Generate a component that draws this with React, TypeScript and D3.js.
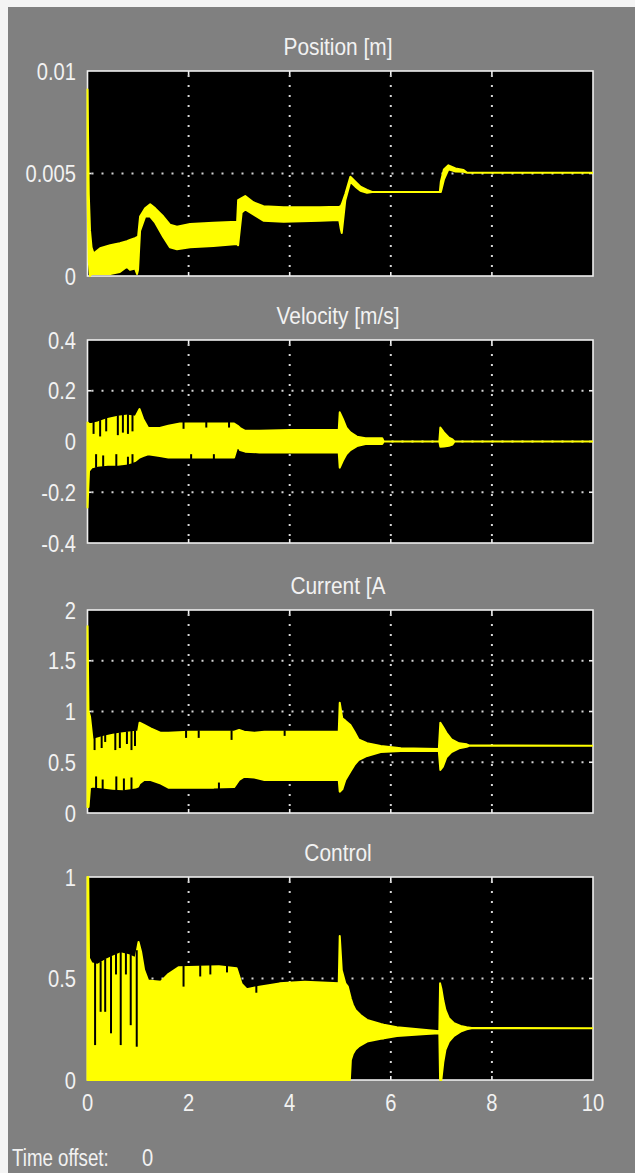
import React from "react";
import * as d3 from "d3";

const WIDTH = 635;
const HEIGHT = 1173;

// Shared time axis (seconds)
const timeTicks = [0, 2, 4, 6, 8, 10];
const timeTickLabels = ["0", "2", "4", "6", "8", "10"];
const timeGrid = [2, 4, 6, 8];

// Position [m] — envelope of the scope trace
const posTicks = [0, 0.005, 0.01];
const posTickLabels = ["0", "0.005", "0.01"];
const posTime = [0, 0.025, 0.05, 0.08, 0.12, 0.25, 0.45, 0.64, 0.78, 0.84, 0.94, 0.98, 1.0, 1.04, 1.14, 1.24, 1.34, 1.5, 1.63, 1.77, 2.03, 2.49, 2.96, 2.98, 3.05, 3.12, 3.28, 3.48, 3.88, 4.6, 4.98, 5.01, 5.03, 5.1, 5.2, 5.3, 5.4, 5.53, 5.63, 6.97, 6.99, 7.05, 7.14, 7.28, 7.44, 7.51, 10];
const posHigh = [0.0091, 0.004, 0.0022, 0.0014, 0.0011, 0.00135, 0.0015, 0.0016, 0.0017, 0.00176, 0.00185, 0.0019, 0.0019, 0.0029, 0.0033, 0.0035, 0.0033, 0.0029, 0.0025, 0.0024, 0.00254, 0.0026, 0.00265, 0.0037, 0.0038, 0.0039, 0.0036, 0.0034, 0.00335, 0.00335, 0.00338, 0.0034, 0.0035, 0.004, 0.00484, 0.0046, 0.00436, 0.0042, 0.0041, 0.0041, 0.0046, 0.0052, 0.0054, 0.00525, 0.00517, 0.00504, 0.00504];
const posLow = [0.004, 0.0007, 0.0, 0.0001, 0.0001, 0.0001, 0.0001, 0.0002, 0.00045, 0.0003, 0.00037, 0.0001, 0.0003, 0.0022, 0.0029, 0.0029, 0.0026, 0.0019, 0.0014, 0.0013, 0.0014, 0.00146, 0.00156, 0.0015, 0.0031, 0.00325, 0.003, 0.0027, 0.00265, 0.0027, 0.00273, 0.0023, 0.0021, 0.0037, 0.0046, 0.00436, 0.00416, 0.00406, 0.0041, 0.0041, 0.0041, 0.0047, 0.0052, 0.0051, 0.00508, 0.00504, 0.00504];
const posDipHighTime: number[] = [];
const posDipHighValue: number[] = [];
const posDipLowTime: number[] = [];
const posDipLowValue: number[] = [];

// Velocity [m/s]
const velTicks = [-0.4, -0.2, 0, 0.2, 0.4];
const velTickLabels = ["-0.4", "-0.2", "0", "0.2", "0.4"];
const velTime = [0, 0.03, 0.08, 0.2, 0.4, 0.6, 0.8, 0.95, 1.03, 1.1, 1.2, 1.43, 1.6, 1.83, 2.4, 2.9, 2.97, 3.02, 3.12, 3.4, 4.0, 4.97, 4.99, 5.05, 5.12, 5.2, 5.33, 5.5, 5.83, 5.86, 6.96, 6.98, 7.05, 7.15, 7.22, 7.26, 10];
const velHigh = [0.075, 0.07, 0.069, 0.075, 0.089, 0.098, 0.102, 0.098, 0.128, 0.089, 0.053, 0.053, 0.062, 0.071, 0.071, 0.071, 0.062, 0.053, 0.042, 0.042, 0.045, 0.045, 0.115, 0.089, 0.055, 0.036, 0.019, 0.013, 0.013, 0, 0, 0.055, 0.036, 0.015, 0.008, 0, 0];
const velLow = [-0.26, -0.116, -0.103, -0.096, -0.092, -0.092, -0.087, -0.076, -0.063, -0.057, -0.05, -0.057, -0.063, -0.063, -0.063, -0.063, -0.017, -0.034, -0.04, -0.043, -0.043, -0.043, -0.103, -0.076, -0.05, -0.034, -0.018, -0.01, -0.01, 0, 0, -0.021, -0.02, -0.017, -0.012, 0, 0];
const velDipHighTime = [0.12, 0.25, 0.37, 0.6, 0.7, 0.8, 0.89, 1.9, 2.35, 2.8];
const velDipHighValue = [0.03, 0.02, 0.04, 0.025, 0.035, 0.03, 0.04, 0.05, 0.055, 0.055];
const velDipLowTime = [0.17, 0.31, 0.57, 0.8, 0.89, 2.05, 2.5];
const velDipLowValue = [-0.05, -0.055, -0.05, -0.06, -0.05, -0.05, -0.05];

// Current [A]
const curTicks = [0, 0.5, 1, 1.5, 2];
const curTickLabels = ["0", "0.5", "1", "1.5", "2"];
const curTime = [0, 0.02, 0.05, 0.1, 0.3, 0.5, 0.7, 0.95, 1.0, 1.03, 1.12, 1.25, 1.45, 1.6, 2.0, 2.5, 2.9, 3.0, 3.1, 3.3, 3.5, 4.0, 4.97, 4.99, 5.04, 5.1, 5.2, 5.28, 5.36, 5.53, 5.8, 6.2, 6.95, 6.98, 7.03, 7.1, 7.2, 7.35, 7.5, 7.55, 10];
const curHigh = [1.84, 1.0, 0.95, 0.72, 0.75, 0.77, 0.785, 0.8, 0.8, 0.89, 0.867, 0.834, 0.79, 0.79, 0.8, 0.8, 0.8, 0.818, 0.8, 0.79, 0.8, 0.8, 0.8, 1.087, 0.933, 0.91, 0.867, 0.8, 0.726, 0.687, 0.66, 0.637, 0.63, 0.89, 0.85, 0.79, 0.726, 0.687, 0.677, 0.665, 0.663];
const curLow = [0.06, 0.06, 0.25, 0.26, 0.25, 0.24, 0.233, 0.25, 0.26, 0.29, 0.325, 0.325, 0.29, 0.25, 0.25, 0.25, 0.255, 0.325, 0.358, 0.35, 0.325, 0.325, 0.325, 0.21, 0.233, 0.325, 0.41, 0.473, 0.522, 0.562, 0.6, 0.61, 0.61, 0.424, 0.456, 0.55, 0.6, 0.637, 0.653, 0.663, 0.663];
const curDipHighTime = [0.14, 0.28, 0.35, 0.55, 0.64, 0.78, 0.87, 0.94, 1.95, 2.2, 2.85, 3.9];
const curDipHighValue = [0.62, 0.64, 0.7, 0.62, 0.64, 0.68, 0.62, 0.66, 0.74, 0.74, 0.72, 0.76];
const curDipLowTime = [0.17, 0.3, 0.57, 0.72, 0.87, 2.6];
const curDipLowValue = [0.36, 0.33, 0.36, 0.34, 0.35, 0.3];

// Control
const ctrlTicks = [0, 0.5, 1];
const ctrlTickLabels = ["0", "0.5", "1"];
const ctrlTime = [0, 0.015, 0.03, 0.08, 0.2, 0.35, 0.5, 0.65, 0.8, 0.95, 1.01, 1.06, 1.12, 1.2, 1.45, 1.6, 1.8, 2.2, 2.6, 2.95, 3.05, 3.15, 3.4, 3.8, 4.3, 4.97, 4.99, 5.03, 5.1, 5.15, 5.19, 5.21, 5.25, 5.3, 5.36, 5.4, 5.53, 5.8, 5.86, 6.12, 6.7, 6.96, 6.975, 7.0, 7.04, 7.08, 7.15, 7.25, 7.38, 7.5, 7.6, 10];
const ctrlHigh = [1.0, 1.0, 0.6, 0.575, 0.567, 0.59, 0.607, 0.624, 0.616, 0.6, 0.68, 0.632, 0.542, 0.49, 0.484, 0.522, 0.555, 0.558, 0.56, 0.55, 0.473, 0.447, 0.46, 0.476, 0.484, 0.476, 0.709, 0.54, 0.476, 0.46, 0.42, 0.4, 0.37, 0.345, 0.33, 0.32, 0.296, 0.276, 0.272, 0.26, 0.246, 0.24, 0.476, 0.45, 0.39, 0.345, 0.304, 0.28, 0.266, 0.26, 0.256, 0.255];
const ctrlLow = [0, 0, 0, 0, 0, 0, 0, 0, 0, 0, 0, 0, 0, 0, 0, 0, 0, 0, 0, 0, 0, 0, 0, 0, 0, 0, 0, 0, 0, 0, 0, 0.0985, 0.13, 0.15, 0.164, 0.17, 0.189, 0.203, 0.205, 0.217, 0.227, 0.23, 0, 0, 0.09, 0.148, 0.189, 0.217, 0.238, 0.25, 0.255, 0.255];
const ctrlDipHighTime = [0.15, 0.26, 0.35, 0.465, 0.564, 0.657, 0.76, 0.855, 0.974, 1.9, 2.23, 2.43, 2.76, 3.34];
const ctrlDipHighValue = [0.172, 0.336, 0.336, 0.23, 0.52, 0.172, 0.52, 0.27, 0.164, 0.46, 0.51, 0.52, 0.53, 0.43];
const ctrlDipLowTime: number[] = [];
const ctrlDipLowValue: number[] = [];

const PLOT_LEFT = 87.5;
const PLOT_RIGHT = 593;
const BG = "#808080";
const TEXT = "#f2f2f2";
const TRACE = "#ffff00";
const FONT = "'Liberation Sans', Arial, sans-serif";

type PanelSpec = {
  title: string;
  top: number;
  bottom: number;
  domain: [number, number];
  ticks: number[];
  labels: string[];
  time: number[];
  high: number[];
  low: number[];
  dipHighTime: number[];
  dipHighValue: number[];
  dipLowTime: number[];
  dipLowValue: number[];
};

const panels: PanelSpec[] = [
  { title: "Position [m]", top: 71, bottom: 276, domain: [0, 0.01], ticks: posTicks, labels: posTickLabels, time: posTime, high: posHigh, low: posLow, dipHighTime: posDipHighTime, dipHighValue: posDipHighValue, dipLowTime: posDipLowTime, dipLowValue: posDipLowValue },
  { title: "Velocity [m/s]", top: 340, bottom: 543, domain: [-0.4, 0.4], ticks: velTicks, labels: velTickLabels, time: velTime, high: velHigh, low: velLow, dipHighTime: velDipHighTime, dipHighValue: velDipHighValue, dipLowTime: velDipLowTime, dipLowValue: velDipLowValue },
  { title: "Current [A", top: 610, bottom: 813, domain: [0, 2], ticks: curTicks, labels: curTickLabels, time: curTime, high: curHigh, low: curLow, dipHighTime: curDipHighTime, dipHighValue: curDipHighValue, dipLowTime: curDipLowTime, dipLowValue: curDipLowValue },
  { title: "Control", top: 877, bottom: 1080, domain: [0, 1], ticks: ctrlTicks, labels: ctrlTickLabels, time: ctrlTime, high: ctrlHigh, low: ctrlLow, dipHighTime: ctrlDipHighTime, dipHighValue: ctrlDipHighValue, dipLowTime: ctrlDipLowTime, dipLowValue: ctrlDipLowValue },
];

function Label(props: { x: number; y: number; text: string; anchor?: string; sx?: number; size?: number }) {
  const { x, y, text, anchor = "start", sx = 0.85, size = 24 } = props;
  return (
    <text
      transform={`translate(${x},${y}) scale(${sx},1)`}
      textAnchor={anchor}
      fontFamily={FONT}
      fontSize={size}
      fill={TEXT}
    >
      {text}
    </text>
  );
}

function Panel({ spec, index, showTime }: { spec: PanelSpec; index: number; showTime: boolean }) {
  const x = d3.scaleLinear().domain([0, 10]).range([PLOT_LEFT, PLOT_RIGHT]);
  const y = d3.scaleLinear().domain(spec.domain).range([spec.bottom, spec.top]);
  const highAt = d3.scaleLinear().domain(spec.time).range(spec.high);
  const lowAt = d3.scaleLinear().domain(spec.time).range(spec.low);

  const area = d3
    .area<number>()
    .x((_, i) => x(spec.time[i]))
    .y0((_, i) => y(spec.low[i]))
    .y1((d) => y(d))
    .curve(d3.curveLinear);
  const tracePath = area(spec.high) || "";

  const innerTicks = spec.ticks.filter((v) => v !== spec.domain[0] && v !== spec.domain[1]);
  const clipId = `plot-clip-${index}`;
  const gridColor = "#d4d4d4";

  return (
    <g>
      <defs>
        <clipPath id={clipId}>
          <rect x={PLOT_LEFT - 1.5} y={spec.top - 1} width={PLOT_RIGHT - PLOT_LEFT + 1.5} height={spec.bottom - spec.top + 2} />
        </clipPath>
      </defs>
      <text x={338} y={spec.top - 16} textAnchor="middle" fontFamily={FONT} fontSize={24} fill={TEXT}
        transform={`translate(338,0) scale(0.87,1) translate(-338,0)`}>
        {spec.title}
      </text>
      <rect x={PLOT_LEFT} y={spec.top} width={PLOT_RIGHT - PLOT_LEFT} height={spec.bottom - spec.top} fill="#000" stroke="#eeeeee" strokeWidth={1.6} />
      {/* dotted grid */}
      {timeGrid.map((t) => (
        <line key={`gv${t}`} x1={x(t)} x2={x(t)} y1={spec.top + 4} y2={spec.bottom - 2} stroke={gridColor} strokeWidth={2} strokeDasharray="2,8" />
      ))}
      {innerTicks.map((v) => (
        <line key={`gh${v}`} x1={PLOT_LEFT + 4} x2={PLOT_RIGHT - 2} y1={y(v)} y2={y(v)} stroke={gridColor} strokeWidth={2} strokeDasharray="2,8" />
      ))}
      {/* frame tick marks */}
      {timeGrid.map((t) => (
        <g key={`tv${t}`} stroke="#eeeeee" strokeWidth={1.6}>
          <line x1={x(t)} x2={x(t)} y1={spec.top} y2={spec.top + 4} />
          <line x1={x(t)} x2={x(t)} y1={spec.bottom} y2={spec.bottom - 4} />
        </g>
      ))}
      {innerTicks.map((v) => (
        <g key={`th${v}`} stroke="#eeeeee" strokeWidth={1.6}>
          <line x1={PLOT_LEFT} x2={PLOT_LEFT + 4} y1={y(v)} y2={y(v)} />
          <line x1={PLOT_RIGHT} x2={PLOT_RIGHT - 4} y1={y(v)} y2={y(v)} />
        </g>
      ))}
      {/* trace envelope */}
      <g clipPath={`url(#${clipId})`}>
        <path d={tracePath} fill={TRACE} stroke={TRACE} strokeWidth={2} strokeLinejoin="round" />
        {spec.dipHighTime.map((t, i) => (
          <line key={`dh${i}`} x1={x(t)} x2={x(t)} y1={y(highAt(t)) - 1.5} y2={y(spec.dipHighValue[i])} stroke="#000" strokeWidth={2} />
        ))}
        {spec.dipLowTime.map((t, i) => (
          <line key={`dl${i}`} x1={x(t)} x2={x(t)} y1={y(lowAt(t)) + 1.5} y2={y(spec.dipLowValue[i])} stroke="#000" strokeWidth={2} />
        ))}
      </g>
      {/* value labels */}
      {spec.ticks.map((v, i) => (
        <Label key={`yl${v}`} x={76} y={y(v) + 8.5} text={spec.labels[i]} anchor="end" sx={0.84} />
      ))}
      {showTime &&
        timeTicks.map((t, i) => (
          <Label key={`xl${t}`} x={x(t)} y={spec.bottom + 31} text={timeTickLabels[i]} anchor="middle" sx={0.84} />
        ))}
    </g>
  );
}

export default function App() {
  return (
    <svg
      width={WIDTH}
      height={HEIGHT}
      viewBox={`0 0 ${WIDTH} ${HEIGHT}`}
      style={{ position: "absolute", left: 0, top: 0, display: "block" }}
    >
      <rect x={0} y={0} width={WIDTH} height={HEIGHT} fill="#f4f4f4" />
      <rect x={8} y={7} width={WIDTH - 8} height={HEIGHT - 7} fill={BG} />
      {panels.map((p, i) => (
        <Panel key={p.title} spec={p} index={i} showTime={i === panels.length - 1} />
      ))}
      <Label x={12} y={1166} text="Time offset:" sx={0.78} />
      <Label x={142} y={1166} text="0" sx={0.84} />
    </svg>
  );
}
